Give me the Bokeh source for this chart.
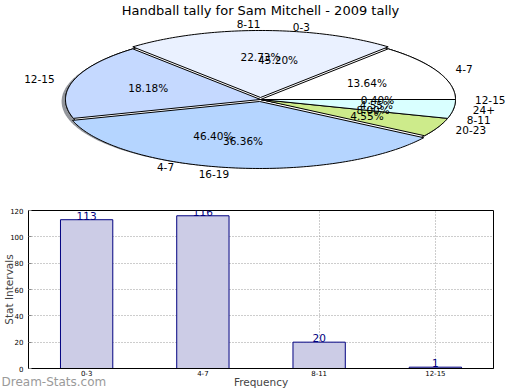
import numpy as np
from bokeh.plotting import figure
from bokeh.models import (ColumnDataSource, Range1d, FactorRange,
                          SingleIntervalTicker)
from bokeh.core.properties import value
from bokeh.embed import file_html
from bokeh.resources import INLINE

# ---------------- data ----------------
title_text = "Handball tally for Sam Mitchell - 2009 tally"
bar_categories = ["0-3", "4-7", "8-11", "12-15"]
bar_values = [113, 116, 20, 1]
top_labels = ["4-7", "8-11", "12-15", "16-19", "20-23", "24+"]
top_values = [3, 5, 4, 8, 1, 1]
x_label = "Frequency"
y_label = "Stat Intervals"
watermark = "Dream-Stats.com"

# ---------------- styles ----------------
FONT = value("DejaVu Sans")
top_colors = ["#ffffff", "#eaf1ff", "#c5d9ff", "#b5d5ff", "#cdeb8b", "#d9ffff"]
top_explode = [0, 0.03, 0, 0.03, 0, 0]
bottom_colors = ["#ffffff"] * len(bar_values)
bottom_explode = [0] * len(bar_values)

W = 520
PIE_H = 182
BAR_H = 208
RX_PX, RY_PX = 195.0, 67.0
CX_PX, CY_PX = 260.0, 99.0  # pie centre within the pie figure
TITLE_Y_PX = 10.0


def wedges(values, explode):
    total = float(sum(values))
    fr = np.cumsum([0] + list(values)) / total
    xs, ys, info = [], [], []
    for i in range(len(values)):
        t1, t2 = 2 * np.pi * fr[i], 2 * np.pi * fr[i + 1]
        tm = (t1 + t2) / 2
        dx, dy = explode[i] * np.cos(tm), explode[i] * np.sin(tm)
        n = max(3, int(np.ceil((t2 - t1) / (2 * np.pi) * 360)))
        t = np.linspace(t1, t2, n)
        xs.append(list(dx + np.concatenate([[0.0], np.cos(t)])))
        ys.append(list(dy + np.concatenate([[0.0], np.sin(t)])))
        info.append((tm, dx, dy, 100.0 * values[i] / total))
    return xs, ys, info


x0 = -CX_PX / RX_PX
x1 = (W - CX_PX) / RX_PX
y1 = CY_PX / RY_PX
y0 = -(PIE_H - CY_PX) / RY_PX

p1 = figure(width=W, height=PIE_H, x_range=Range1d(x0, x1), y_range=Range1d(y0, y1),
            x_axis_type=None, y_axis_type=None, output_backend="svg",
            toolbar_location=None, min_border=0, outline_line_color=None)
p1.grid.visible = False

# shadow
ts = np.linspace(0, 2 * np.pi, 361)
p1.patch(list(np.cos(ts) - 0.02), list(np.sin(ts) - 0.03), fill_color="#3a3f4a",
         fill_alpha=0.55, line_color=None)

label_rows = []
bx, by, binfo = wedges(bar_values, bottom_explode)
p1.patches(bx, by, fill_color=bottom_colors, line_color="black", line_width=1,
           line_join="round")
for lab, (tm, dx, dy, pct) in zip(bar_categories, binfo):
    label_rows.append((lab, tm, dx, dy, pct))

tx, ty, tinfo = wedges(top_values, top_explode)
p1.patches(tx, ty, fill_color=top_colors, line_color="black", line_width=1,
           line_join="round")
for lab, (tm, dx, dy, pct) in zip(top_labels, tinfo):
    label_rows.append((lab, tm, dx, dy, pct))

left = dict(x=[], y=[], t=[])
right = dict(x=[], y=[], t=[])
pct_src = dict(x=[], y=[], t=[])
for lab, tm, dx, dy, pct in label_rows:
    c, s = np.cos(tm), np.sin(tm)
    d = left if c > 1e-9 else right
    d["x"].append(dx + 1.1 * c)
    d["y"].append(dy + 1.1 * s)
    d["t"].append(lab)
    pct_src["x"].append(dx + 0.6 * c)
    pct_src["y"].append(dy + 0.6 * s)
    pct_src["t"].append("%.2f%%" % pct)

common = dict(text="t", text_font=FONT, text_font_size="10.5px", text_color="black",
              text_baseline="middle")
p1.text(x="x", y="y", source=ColumnDataSource(left), text_align="left", **common)
p1.text(x="x", y="y", source=ColumnDataSource(right), text_align="right", **common)
p1.text(x="x", y="y", source=ColumnDataSource(pct_src), text_align="center", **common)

p1.text(x=[0.0], y=[(CY_PX - TITLE_Y_PX) / RY_PX], text=[title_text], text_font=FONT,
        text_font_size="13px", text_align="center", text_baseline="middle",
        text_color="black")

# ---------------- bar chart ----------------
p2 = figure(width=W, height=BAR_H, x_range=FactorRange(*bar_categories),
            y_range=Range1d(0, 120), output_backend="svg", toolbar_location=None,
            min_border_top=28, min_border_right=27, min_border_left=0,
            min_border_bottom=0, x_axis_label=x_label, y_axis_label=y_label)
src = ColumnDataSource(dict(cat=bar_categories, val=bar_values,
                            txt=[str(v) for v in bar_values]))
p2.vbar(x="cat", top="val", width=0.45, source=src, fill_color="#ccccE6",
        line_color="#000080", line_width=1)
p2.text(x="cat", y="val", text="txt", source=src, text_align="center",
        text_baseline="bottom", text_color="#000080", text_font_size="10.5px",
        text_font=FONT)

p2.outline_line_color = "black"
p2.outline_line_width = 1
p2.yaxis.ticker = SingleIntervalTicker(interval=20)
for ax in (p2.xaxis[0], p2.yaxis[0]):
    ax.axis_line_color = "black"
    ax.major_tick_in = 3
    ax.major_tick_out = 0
    ax.minor_tick_line_color = None
    ax.major_tick_line_color = "#888888"
    ax.major_label_text_font = "DejaVu Sans"
    ax.major_label_text_font_size = "7px"
    ax.major_label_text_color = "black"
    ax.major_label_standoff = 1
    ax.axis_label_text_font = "DejaVu Sans"
    ax.axis_label_text_font_size = "10.5px"
    ax.axis_label_text_font_style = "normal"
    ax.axis_label_standoff = 0
p2.xaxis.major_tick_line_color = None
p2.yaxis.axis_label_standoff = -8
p2.xaxis.axis_label_standoff = -3

p2.xgrid.grid_line_color = "#9a9a9a"
p2.xgrid.grid_line_dash = "1 2"
p2.ygrid.grid_line_color = "#9a9a9a"
p2.ygrid.grid_line_dash = "1 2"

# watermark: small transparent overlay figure pulled up over the bar chart's bottom
p3 = figure(width=110, height=16, x_range=Range1d(0, 110), y_range=Range1d(0, 16),
            x_axis_type=None, y_axis_type=None, output_backend="svg",
            toolbar_location=None, min_border=0, outline_line_color=None,
            background_fill_color=None, border_fill_color=None,
            styles={"margin-top": "-17px", "position": "relative"})
p3.grid.visible = False
p3.text(x=[1], y=[8], text=[watermark], text_font=FONT, text_font_size="12px",
        text_color="#9a9a9a", text_baseline="middle", text_align="left")

open("out.html", "w").write(file_html([p1, p2, p3], INLINE))
